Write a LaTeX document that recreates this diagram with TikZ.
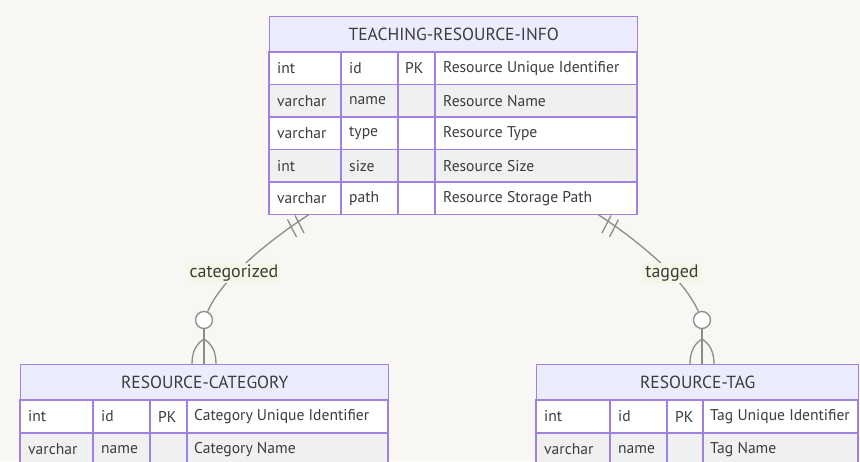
\documentclass[tikz,border=0pt]{standalone}
\usepackage{fontspec}
\setmainfont{PT Sans}
\usetikzlibrary{calc}
\definecolor{bg}{RGB}{249,247,244}
\definecolor{hdr}{RGB}{236,236,255}
\definecolor{bd}{RGB}{160,128,224}
\definecolor{alt}{RGB}{240,240,240}
\definecolor{txt}{RGB}{60,60,60}
\definecolor{lnk}{RGB}{140,140,140}
\definecolor{lbl}{RGB}{242,247,230}
\tikzset{
  cellbox/.style={draw=bd, line width=1.4pt},
  hdrbox/.style={draw=bd, fill=hdr, line width=1.4pt, anchor=north west, inner sep=0pt, text=txt, font=\fontsize{17.5}{19}\selectfont},
  ctext/.style={anchor=west, inner sep=0pt, text=txt, font=\fontsize{15.6}{17}\selectfont},
  link/.style={draw=lnk, line width=1.3pt},
  relcirc/.style={circle, draw=lnk, fill=white, line width=1.3pt, minimum size=17pt, inner sep=0pt},
  rellabel/.style={fill=lbl, text=txt, inner sep=2pt, font=\fontsize{18}{20}\selectfont}
}
\begin{document}
\begin{tikzpicture}[x=1pt,y=-1pt]
\fill[bg] (0,0) rectangle (860,461);
\useasboundingbox (0,0) rectangle (860,461);

% ---------- TEACHING-RESOURCE-INFO ----------
\node[hdrbox, minimum width=368pt, minimum height=36pt] (tri) at (269,16) {TEACHING-RESOURCE-INFO};
\foreach \i/\ya/\yb/\f/\ta/\tb/\tc/\td in {
  1/52/84.5/white/int/id/PK/Resource Unique Identifier,
  2/84.5/117/alt/varchar/name//Resource Name,
  3/117/149.5/white/varchar/type//Resource Type,
  4/149.5/182/alt/int/size//Resource Size,
  5/182/214.5/white/varchar/path//Resource Storage Path}{
  \fill[\f] (269,\ya) rectangle (637,\yb);
  \draw[cellbox] (269,\ya) rectangle (341,\yb);
  \draw[cellbox] (341,\ya) rectangle (398,\yb);
  \draw[cellbox] (398,\ya) rectangle (435,\yb);
  \draw[cellbox] (435,\ya) rectangle (637,\yb);
  \node[ctext] (tri-\i-a) at (277,{(\ya+\yb)/2}) {\ta};
  \node[ctext] (tri-\i-b) at (349,{(\ya+\yb)/2}) {\tb};
  \node[ctext] (tri-\i-c) at (405,{(\ya+\yb)/2}) {\tc};
  \node[ctext] (tri-\i-d) at (443,{(\ya+\yb)/2}) {\td};
}

% ---------- RESOURCE-CATEGORY ----------
\node[hdrbox, minimum width=368pt, minimum height=36pt] (rc) at (20,364) {RESOURCE-CATEGORY};
\foreach \i/\ya/\yb/\f/\ta/\tb/\tc/\td in {
  1/400/433/white/int/id/PK/Category Unique Identifier,
  2/433/466/alt/varchar/name//Category Name}{
  \fill[\f] (20,\ya) rectangle (388,\yb);
  \draw[cellbox] (20,\ya) rectangle (93,\yb);
  \draw[cellbox] (93,\ya) rectangle (150,\yb);
  \draw[cellbox] (150,\ya) rectangle (187,\yb);
  \draw[cellbox] (187,\ya) rectangle (388,\yb);
  \node[ctext] (rc-\i-a) at (28,{(\ya+\yb)/2}) {\ta};
  \node[ctext] (rc-\i-b) at (101,{(\ya+\yb)/2}) {\tb};
  \node[ctext] (rc-\i-c) at (158,{(\ya+\yb)/2}) {\tc};
  \node[ctext] (rc-\i-d) at (194,{(\ya+\yb)/2}) {\td};
}

% ---------- RESOURCE-TAG ----------
\node[hdrbox, minimum width=322pt, minimum height=36pt] (rt) at (536,364) {RESOURCE-TAG};
\foreach \i/\ya/\yb/\f/\ta/\tb/\tc/\td in {
  1/400/433/white/int/id/PK/Tag Unique Identifier,
  2/433/466/alt/varchar/name//Tag Name}{
  \fill[\f] (536,\ya) rectangle (858,\yb);
  \draw[cellbox] (536,\ya) rectangle (610,\yb);
  \draw[cellbox] (610,\ya) rectangle (667,\yb);
  \draw[cellbox] (667,\ya) rectangle (703,\yb);
  \draw[cellbox] (703,\ya) rectangle (858,\yb);
  \node[ctext] (rt-\i-a) at (544,{(\ya+\yb)/2}) {\ta};
  \node[ctext] (rt-\i-b) at (618,{(\ya+\yb)/2}) {\tb};
  \node[ctext] (rt-\i-c) at (675,{(\ya+\yb)/2}) {\tc};
  \node[ctext] (rt-\i-d) at (710,{(\ya+\yb)/2}) {\td};
}

% ---------- relationship: categorized ----------
\coordinate (s1) at (309,214.5);
\node[relcirc] (c1) at (204,320) {};
\draw[link] (s1) .. controls (270,240) and (222,278) .. (c1);
\draw[link] (287.5,219.5) -- (296.5,237);
\draw[link] (295,215.5) -- (304,233);
\draw[link] (c1.south) -- (c1.south |- rc.north);
\draw[link] (204,339) .. controls (196,344) and (192,352) .. (192,364);
\draw[link] (204,339) .. controls (212,344) and (216,352) .. (216,364);
\node[rellabel] (l1) at (234,273) {categorized};

% ---------- relationship: tagged ----------
\coordinate (s2) at (598,214.5);
\node[relcirc] (c2) at (702,320) {};
\draw[link] (s2) .. controls (637,240) and (684,278) .. (c2);
\draw[link] (611,215.5) -- (602,233);
\draw[link] (618.5,219.5) -- (609.5,237);
\draw[link] (c2.south) -- (c2.south |- rt.north);
\draw[link] (702,339) .. controls (694,344) and (690,352) .. (690,364);
\draw[link] (702,339) .. controls (710,344) and (714,352) .. (714,364);
\node[rellabel] (l2) at (672,273) {tagged};
\end{tikzpicture}
\end{document}
